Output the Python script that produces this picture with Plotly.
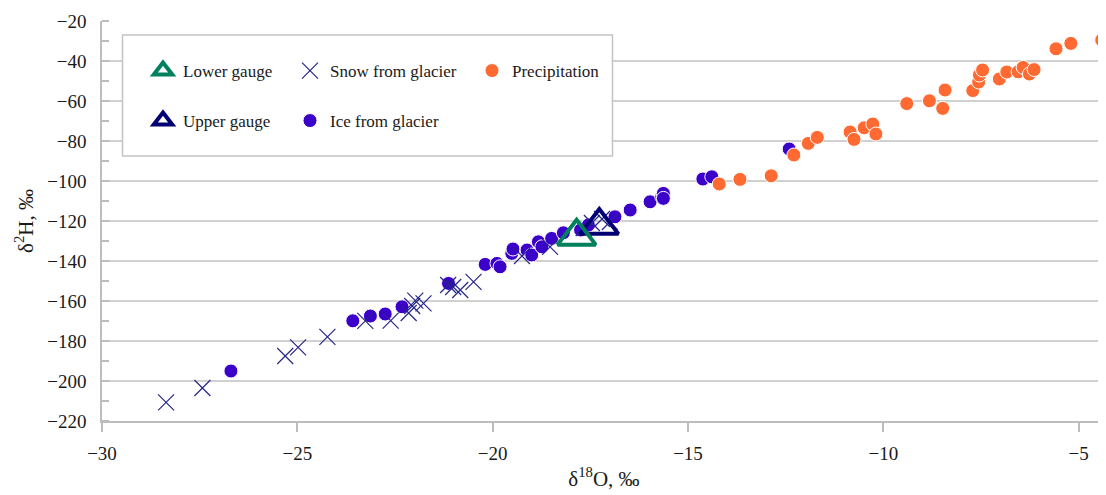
import plotly.graph_objects as go

# ---- data ----
ice_x = [-26.70, -23.58, -23.13, -22.75, -22.32, -21.13, -20.19, -19.89, -19.81, -19.51,
         -19.48, -19.12, -19.00, -18.83, -18.74, -18.49, -18.19, -17.75, -17.55, -16.87,
         -16.48, -15.97, -15.67, -15.63, -15.63, -14.62, -14.39, -12.41]
ice_y = [-195.0, -169.9, -167.5, -166.5, -162.9, -151.2, -141.7, -141.2, -142.9, -136.2,
         -134.0, -134.5, -137.0, -130.4, -132.9, -128.7, -125.9, -124.5, -122.0, -117.9,
         -114.5, -110.4, -107.9, -106.2, -108.7, -99.0, -97.9, -84.0]

snow_x = [-28.36, -27.43, -25.31, -24.98, -24.23, -23.26, -22.61, -22.15, -22.06, -21.98,
          -21.77, -21.14, -21.01, -20.83, -20.49, -19.25, -18.53, -17.67, -17.46, -17.20,
          -17.00]
snow_y = [-210.7, -203.5, -187.5, -183.2, -177.9, -169.9, -169.8, -166.0, -162.5, -159.8,
          -161.2, -152.0, -153.0, -154.5, -150.4, -137.5, -132.9, -123.5, -121.0, -119.0,
          -120.5]

precip_x = [-14.20, -13.67, -12.87, -12.29, -11.92, -11.69, -10.85, -10.75, -10.49, -10.27,
            -10.19, -9.40, -8.82, -8.48, -8.42, -7.71, -7.56, -7.54, -7.46, -7.03,
            -6.84, -6.55, -6.42, -6.26, -6.14, -5.58, -5.20, -4.41]
precip_y = [-101.5, -99.2, -97.4, -87.0, -81.2, -78.2, -75.5, -79.2, -73.4, -71.5,
            -76.5, -61.3, -59.9, -63.7, -54.5, -54.8, -50.5, -47.0, -44.5, -49.0,
            -45.5, -45.4, -43.2, -46.5, -44.3, -33.9, -31.2, -29.5]

lower_x = [-17.85]
lower_y = [-127.7]
upper_x = [-17.27]
upper_y = [-122.3]

x_ticks = [-30, -25, -20, -15, -10, -5]
y_ticks = [-20, -40, -60, -80, -100, -120, -140, -160, -180, -200, -220]

FONT = "Liberation Serif, Times New Roman, DejaVu Serif, serif"
GREEN = "#00805c"
NAVY = "#000072"
PURPLE = "#3b00c9"
ORANGE = "#ff6a33"
SNOWC = "#262688"
TXT = "#1a1a1a"

fig = go.Figure()

fig.add_trace(go.Scatter(
    x=ice_x, y=ice_y, mode="markers", name="Ice from glacier",
    legend="legend2", legendrank=2,
    marker=dict(symbol="circle", size=14, color=PURPLE, line=dict(color="white", width=1))))

fig.add_trace(go.Scatter(
    x=snow_x, y=snow_y, mode="markers", name="Snow from glacier",
    legend="legend", legendrank=2, legendwidth=137,
    marker=dict(symbol="x-thin-open", size=16, color=SNOWC, line=dict(color=SNOWC, width=1.2))))

fig.add_trace(go.Scatter(
    x=precip_x, y=precip_y, mode="markers", name="Precipitation",
    legend="legend", legendrank=3,
    marker=dict(symbol="circle", size=14, color=ORANGE, line=dict(color="white", width=1))))

fig.add_trace(go.Scatter(
    x=upper_x, y=upper_y, mode="markers", name="Upper gauge",
    legend="legend2", legendrank=1, legendwidth=102,
    marker=dict(symbol="triangle-up-open", size=33, color=NAVY, line=dict(color=NAVY, width=4))))

fig.add_trace(go.Scatter(
    x=lower_x, y=lower_y, mode="markers", name="Lower gauge",
    legend="legend", legendrank=1, legendwidth=102,
    marker=dict(symbol="triangle-up-open", size=33, color=GREEN, line=dict(color=GREEN, width=4))))

# page geometry (the page body has an 8px margin)
OFF = 8
W, H = 1106 - OFF, 495 - OFF
L, T, B, R = 102 - OFF, 21 - OFF, 74, 0
pw = W - L - R
ph = H - T - B


def px_x(p):
    return (p - OFF - L) / pw


def px_y(p):
    return 1 - (p - OFF - T) / ph


leg_common = dict(
    orientation="h", xref="paper", yref="paper", xanchor="left", yanchor="middle",
    bgcolor="rgba(0,0,0,0)", borderwidth=0,
    font=dict(family=FONT, size=17, color=TXT),
    itemsizing="trace", traceorder="normal")

fig.update_layout(
    width=W, height=H,
    margin=dict(l=L, r=R, t=T, b=B, pad=0, autoexpand=False),
    paper_bgcolor="white", plot_bgcolor="white",
    font=dict(family=FONT, size=18, color=TXT),
    showlegend=True,
    legend=dict(x=px_x(143), y=px_y(71), **leg_common),
    legend2=dict(x=px_x(143), y=px_y(121), **leg_common),
    xaxis=dict(
        range=[-30, -4.3], tickvals=x_ticks, ticktext=[f"\u2212{abs(v)}" for v in x_ticks],
        showgrid=False, zeroline=False, automargin=False,
        showline=True, linecolor="#bdbdbd", linewidth=1.5,
        ticks="outside", ticklen=9, tickcolor="#bdbdbd", tickwidth=1.5,
        ticklabelstandoff=5,
        tickfont=dict(family=FONT, size=19, color=TXT),
        title=dict(text="\u03b4<sup>18</sup>O, \u2030", font=dict(family=FONT, size=21, color=TXT),
                   standoff=9),
    ),
    yaxis=dict(
        range=[-220, -20], tickvals=y_ticks, ticktext=[f"\u2212{abs(v)}" for v in y_ticks],
        showgrid=True, gridcolor="#d0d0d0", gridwidth=1.5, zeroline=False, automargin=False,
        showline=True, linecolor="#bdbdbd", linewidth=1.5,
        ticks="", ticklabelstandoff=10,
        minor=dict(dtick=10, tick0=-30, ticks="inside", ticklen=7, tickcolor="#bdbdbd", tickwidth=1.5,
                   showgrid=False),
        tickfont=dict(family=FONT, size=19, color=TXT),
        title=dict(text="\u03b4<sup>2</sup>H, \u2030", font=dict(family=FONT, size=21, color=TXT),
                   standoff=8),
    ),
    shapes=[dict(type="rect", xref="paper", yref="paper", layer="above",
                 x0=px_x(122.5), x1=px_x(612.5), y0=px_y(156), y1=px_y(35),
                 line=dict(color="#c4c4c4", width=1.5), fillcolor="white")],
)

fig.write_html("out.html")
